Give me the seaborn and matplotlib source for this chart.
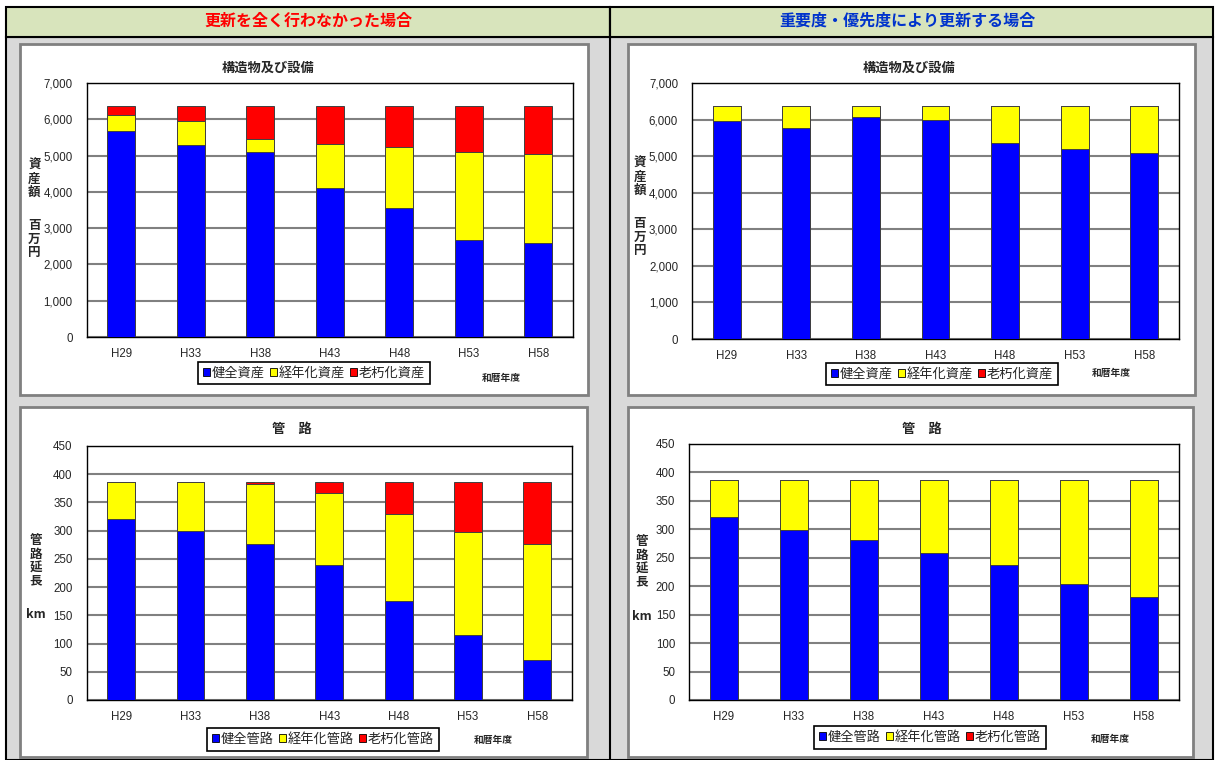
import pandas as pd
import matplotlib
matplotlib.use("Agg")
import matplotlib.pyplot as plt
import seaborn as sns
from matplotlib import font_manager
from matplotlib.patches import Rectangle, Patch
from matplotlib.lines import Line2D
from matplotlib.ticker import FuncFormatter, MultipleLocator

years = ['H29', 'H33', 'H38', 'H43', 'H48', 'H53', 'H58']

# 構造物及び設備 (百万円) - 更新を全く行わなかった場合
asset_healthy_none = [5680, 5305, 5085, 4110, 3545, 2660, 2595]
asset_aging_none = [430, 655, 370, 1215, 1690, 2440, 2435]
asset_old_none = [250, 400, 905, 1035, 1125, 1260, 1330]

# 構造物及び設備 (百万円) - 重要度・優先度により更新する場合
asset_healthy_prio = [5960, 5760, 6070, 5980, 5350, 5200, 5085]
asset_aging_prio = [400, 600, 290, 380, 1010, 1160, 1275]
asset_old_prio = [0, 0, 0, 0, 0, 0, 0]

# 管路 (km) - 更新を全く行わなかった場合
pipe_healthy_none = [320, 299, 277, 239, 176, 116, 71]
pipe_aging_none = [67, 88, 105, 128, 153, 182, 206]
pipe_old_none = [0, 0, 5, 20, 58, 89, 110]

# 管路 (km) - 重要度・優先度により更新する場合
pipe_healthy_prio = [322, 299, 281, 259, 237, 204, 181]
pipe_aging_prio = [65, 88, 106, 128, 150, 182, 205]
pipe_old_prio = [0, 0, 0, 0, 0, 1, 1]

asset_labels = ['健全資産', '経年化資産', '老朽化資産']
pipe_labels = ['健全管路', '経年化管路', '老朽化管路']

BLUE, YELLOW, RED = '#0000ff', '#ffff00', '#ff0000'
W, H = 1216, 760

sns.set_style('white')
names = {f.name for f in font_manager.fontManager.ttflist}
if 'Liberation Sans Narrow' in names:
    num_font, tick_size = 'Liberation Sans Narrow', 9.5
else:
    num_font, tick_size = 'Liberation Sans', 8.3
plt.rcParams['font.family'] = [num_font, 'Noto Sans CJK JP', 'DejaVu Sans']
JP = ['Noto Sans CJK JP', 'DejaVu Sans']


def fx(px):
    return px / W


def fy(py):
    return 1 - py / H


fig = plt.figure(figsize=(W / 100, H / 100), dpi=100, facecolor='white')

# background frame, header row and panels
fig.patches.append(Rectangle((fx(6), fy(760)), fx(1207), 723 / H, transform=fig.transFigure,
                             facecolor='#d9d9d9', edgecolor='black', lw=1.5, zorder=-3))
for x0, x1 in [(6, 610), (610, 1213)]:
    fig.patches.append(Rectangle((fx(x0), fy(37)), fx(x1 - x0), 30 / H, transform=fig.transFigure,
                                 facecolor='#d8e4bc', edgecolor='black', lw=1.5, zorder=-2))
fig.lines.append(Line2D([fx(610), fx(610)], [fy(7), fy(760)], transform=fig.transFigure,
                        color='black', lw=1.5, zorder=-1))
for x0, y0, x1, y1 in [(20, 44, 588, 395), (628, 44, 1195, 395),
                       (20, 407, 587, 757), (628, 407, 1193, 757)]:
    fig.patches.append(Rectangle((fx(x0), fy(y1)), fx(x1 - x0), (y1 - y0) / H, transform=fig.transFigure,
                                 facecolor='white', edgecolor='#808080', lw=2, zorder=-1))

fig.text(fx(308), fy(21), '更新を全く行わなかった場合', family=JP, fontsize=11.5, fontweight='bold',
         color='#ff0000', ha='center', va='center')
fig.text(fx(907), fy(21), '重要度・優先度により更新する場合', family=JP, fontsize=11.5, fontweight='bold',
         color='#0033cc', ha='center', va='center')


def draw_chart(box, healthy, aging, old, ymax, ystep, comma, labels, title, title_xy,
               ylab_top, ylab_bottom, ylab_x, ylab_ys, leg_xy, era_xy):
    x0, y0, x1, y1 = box
    ax = fig.add_axes([fx(x0), fy(y1), fx(x1 - x0), (y1 - y0) / H])
    ax.set_zorder(2)
    ax.set_facecolor('white')
    df = pd.DataFrame({'year': years,
                       'low': healthy,
                       'mid': [a + b for a, b in zip(healthy, aging)],
                       'total': [a + b + c for a, b, c in zip(healthy, aging, old)]})
    for col, c in [('total', RED), ('mid', YELLOW), ('low', BLUE)]:
        sns.barplot(data=df, x='year', y=col, color=c, saturation=1, width=0.4,
                    edgecolor='#404040', linewidth=0.7, errorbar=None, ax=ax, zorder=3)
    ax.set_xlim(-0.5, len(years) - 0.5)
    ax.set_ylim(0, ymax)
    ax.yaxis.set_major_locator(MultipleLocator(ystep))
    if comma:
        ax.yaxis.set_major_formatter(FuncFormatter(lambda v, p: f'{int(v):,}'))
    ax.set_xlabel('')
    ax.set_ylabel('')
    ax.yaxis.grid(True, color='#808080', lw=1.5)
    ax.set_axisbelow(True)
    for s in ax.spines.values():
        s.set_visible(True)
        s.set_color('black')
        s.set_linewidth(1)
    ax.set_xticks([i + 0.5 for i in range(len(years) - 1)], minor=True)
    ax.tick_params(axis='x', which='major', length=0, pad=8, labelsize=tick_size)
    ax.tick_params(axis='x', which='minor', length=5, direction='inout', color='black', width=0.8)
    ax.tick_params(axis='y', length=0, pad=10, labelsize=tick_size)

    fig.text(fx(title_xy[0]), fy(title_xy[1]), title, family=JP, fontsize=9.5, fontweight='bold',
             ha='center', va='center')
    fig.text(fx(ylab_x), fy(ylab_ys[0]), '\n'.join(ylab_top), family=JP, fontsize=9,
             fontweight='bold', ha='center', va='center', linespacing=1.05)
    fig.text(fx(ylab_x), fy(ylab_ys[1]), ylab_bottom if ylab_bottom == 'km' else '\n'.join(ylab_bottom),
             family=JP, fontsize=9, fontweight='bold', ha='center', va='center', linespacing=1.05)
    handles = [Patch(facecolor=c, edgecolor='black', lw=0.6) for c in (BLUE, YELLOW, RED)]
    leg = fig.legend(handles, labels, loc='center', bbox_to_anchor=(fx(leg_xy[0]), fy(leg_xy[1])),
                     ncol=3, frameon=True, fancybox=False, edgecolor='black', framealpha=1,
                     handlelength=0.55, handleheight=0.55, handletextpad=0.15, columnspacing=0.35,
                     borderpad=0.35, borderaxespad=0, prop={'family': JP, 'size': 9.5})
    leg.get_frame().set_linewidth(1.2)
    fig.text(fx(era_xy[0]), fy(era_xy[1]), '和暦年度', family=JP, fontsize=7, fontweight='bold',
             ha='center', va='center')
    return ax


draw_chart((86.6, 83, 573, 337), asset_healthy_none, asset_aging_none, asset_old_none,
           7000, 1000, True, asset_labels, '構造物及び設備', (268, 68),
           '資産額', '百万円', 34.5, (179, 239), (314, 373), (501, 378))
draw_chart((692, 83, 1179, 339), asset_healthy_prio, asset_aging_prio, asset_old_prio,
           7000, 1000, True, asset_labels, '構造物及び設備', (909, 68),
           '資産額', '百万円', 640, (177, 237), (942, 374), (1111, 373))
draw_chart((86.6, 446, 572, 700), pipe_healthy_none, pipe_aging_none, pipe_old_none,
           450, 50, False, pipe_labels, '管　路', (292, 429),
           '管路延長', 'km', 36, (561, 615), (323, 739.5), (493, 740))
draw_chart((689, 444, 1179, 700), pipe_healthy_prio, pipe_aging_prio, pipe_old_prio,
           450, 50, False, pipe_labels, '管　路', (922, 429),
           '管路延長', 'km', 642, (562, 617), (930, 737.5), (1110, 739))

fig.savefig('out.png', dpi=100, facecolor='white')
